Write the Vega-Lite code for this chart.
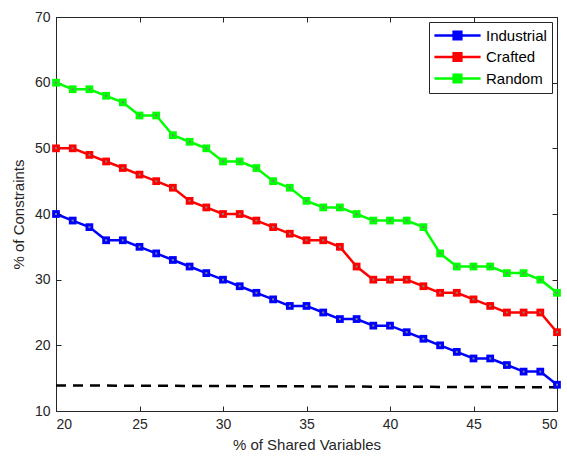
{
  "$schema": "https://vega.github.io/schema/vega-lite/v6.json",
  "autosize": {"type": "none"},
  "padding": {"left": 56, "top": 17, "right": 10, "bottom": 47},
  "width": 501,
  "height": 394,
  "background": "white",
  "config": {
    "font": "Liberation Sans",
    "view": {"stroke": "#262626", "strokeWidth": 1},
    "axis": {
      "grid": false,
      "domainColor": "#262626",
      "tickColor": "#262626",
      "labelColor": "#262626",
      "titleColor": "#262626",
      "labelFontSize": 14,
      "titleFontSize": 15,
      "titleFontWeight": "normal",
      "tickSize": -5,
      "labelPadding": 11
    },
    "legend": {
      "orient": "top-right",
      "offset": 5,
      "strokeColor": "#262626",
      "fillColor": "white",
      "padding": 5,
      "labelFontSize": 15,
      "labelColor": "black",
      "rowPadding": 2.5,
      "symbolSize": 196,
      "symbolOffset": 15,
      "labelOffset": 20,
      "symbolStrokeWidth": 2.5
    }
  },
  "datasets": {
    "main": [
      {"x": 20, "y": 40, "series": "Industrial"}, {"x": 21, "y": 39, "series": "Industrial"}, {"x": 22, "y": 38, "series": "Industrial"}, {"x": 23, "y": 36, "series": "Industrial"}, {"x": 24, "y": 36, "series": "Industrial"}, {"x": 25, "y": 35, "series": "Industrial"}, {"x": 26, "y": 34, "series": "Industrial"}, {"x": 27, "y": 33, "series": "Industrial"}, {"x": 28, "y": 32, "series": "Industrial"}, {"x": 29, "y": 31, "series": "Industrial"}, {"x": 30, "y": 30, "series": "Industrial"}, {"x": 31, "y": 29, "series": "Industrial"}, {"x": 32, "y": 28, "series": "Industrial"}, {"x": 33, "y": 27, "series": "Industrial"}, {"x": 34, "y": 26, "series": "Industrial"}, {"x": 35, "y": 26, "series": "Industrial"}, {"x": 36, "y": 25, "series": "Industrial"}, {"x": 37, "y": 24, "series": "Industrial"}, {"x": 38, "y": 24, "series": "Industrial"}, {"x": 39, "y": 23, "series": "Industrial"}, {"x": 40, "y": 23, "series": "Industrial"}, {"x": 41, "y": 22, "series": "Industrial"}, {"x": 42, "y": 21, "series": "Industrial"}, {"x": 43, "y": 20, "series": "Industrial"}, {"x": 44, "y": 19, "series": "Industrial"}, {"x": 45, "y": 18, "series": "Industrial"}, {"x": 46, "y": 18, "series": "Industrial"}, {"x": 47, "y": 17, "series": "Industrial"}, {"x": 48, "y": 16, "series": "Industrial"}, {"x": 49, "y": 16, "series": "Industrial"}, {"x": 50, "y": 14, "series": "Industrial"},
      {"x": 20, "y": 50, "series": "Crafted"}, {"x": 21, "y": 50, "series": "Crafted"}, {"x": 22, "y": 49, "series": "Crafted"}, {"x": 23, "y": 48, "series": "Crafted"}, {"x": 24, "y": 47, "series": "Crafted"}, {"x": 25, "y": 46, "series": "Crafted"}, {"x": 26, "y": 45, "series": "Crafted"}, {"x": 27, "y": 44, "series": "Crafted"}, {"x": 28, "y": 42, "series": "Crafted"}, {"x": 29, "y": 41, "series": "Crafted"}, {"x": 30, "y": 40, "series": "Crafted"}, {"x": 31, "y": 40, "series": "Crafted"}, {"x": 32, "y": 39, "series": "Crafted"}, {"x": 33, "y": 38, "series": "Crafted"}, {"x": 34, "y": 37, "series": "Crafted"}, {"x": 35, "y": 36, "series": "Crafted"}, {"x": 36, "y": 36, "series": "Crafted"}, {"x": 37, "y": 35, "series": "Crafted"}, {"x": 38, "y": 32, "series": "Crafted"}, {"x": 39, "y": 30, "series": "Crafted"}, {"x": 40, "y": 30, "series": "Crafted"}, {"x": 41, "y": 30, "series": "Crafted"}, {"x": 42, "y": 29, "series": "Crafted"}, {"x": 43, "y": 28, "series": "Crafted"}, {"x": 44, "y": 28, "series": "Crafted"}, {"x": 45, "y": 27, "series": "Crafted"}, {"x": 46, "y": 26, "series": "Crafted"}, {"x": 47, "y": 25, "series": "Crafted"}, {"x": 48, "y": 25, "series": "Crafted"}, {"x": 49, "y": 25, "series": "Crafted"}, {"x": 50, "y": 22, "series": "Crafted"},
      {"x": 20, "y": 60, "series": "Random"}, {"x": 21, "y": 59, "series": "Random"}, {"x": 22, "y": 59, "series": "Random"}, {"x": 23, "y": 58, "series": "Random"}, {"x": 24, "y": 57, "series": "Random"}, {"x": 25, "y": 55, "series": "Random"}, {"x": 26, "y": 55, "series": "Random"}, {"x": 27, "y": 52, "series": "Random"}, {"x": 28, "y": 51, "series": "Random"}, {"x": 29, "y": 50, "series": "Random"}, {"x": 30, "y": 48, "series": "Random"}, {"x": 31, "y": 48, "series": "Random"}, {"x": 32, "y": 47, "series": "Random"}, {"x": 33, "y": 45, "series": "Random"}, {"x": 34, "y": 44, "series": "Random"}, {"x": 35, "y": 42, "series": "Random"}, {"x": 36, "y": 41, "series": "Random"}, {"x": 37, "y": 41, "series": "Random"}, {"x": 38, "y": 40, "series": "Random"}, {"x": 39, "y": 39, "series": "Random"}, {"x": 40, "y": 39, "series": "Random"}, {"x": 41, "y": 39, "series": "Random"}, {"x": 42, "y": 38, "series": "Random"}, {"x": 43, "y": 34, "series": "Random"}, {"x": 44, "y": 32, "series": "Random"}, {"x": 45, "y": 32, "series": "Random"}, {"x": 46, "y": 32, "series": "Random"}, {"x": 47, "y": 31, "series": "Random"}, {"x": 48, "y": 31, "series": "Random"}, {"x": 49, "y": 30, "series": "Random"}, {"x": 50, "y": 28, "series": "Random"}
    ],
    "dash": [
      {"x": 20, "y": 13.9},
      {"x": 50, "y": 13.6}
    ]
  },
  "layer": [
    {
      "data": {"name": "dash"},
      "mark": {"type": "line", "color": "black", "strokeWidth": 2.5, "strokeDash": [10, 7]},
      "encoding": {
        "x": {"field": "x", "type": "quantitative", "scale": {"domain": [20, 50], "nice": false},
          "axis": {"orient": "top", "labels": false, "title": null, "values": [20, 25, 30, 35, 40, 45, 50]}},
        "y": {"field": "y", "type": "quantitative", "scale": {"domain": [10, 70], "nice": false},
          "axis": {"orient": "right", "labels": false, "title": null, "values": [10, 20, 30, 40, 50, 60, 70]}}
      }
    },
    {
      "data": {"name": "main"},
      "mark": {"type": "line", "strokeWidth": 2.5},
      "encoding": {
        "x": {"field": "x", "type": "quantitative", "scale": {"domain": [20, 50], "nice": false},
          "axis": {"orient": "bottom", "title": "% of Shared Variables", "values": [20, 25, 30, 35, 40, 45, 50], "titlePadding": 6}},
        "y": {"field": "y", "type": "quantitative", "scale": {"domain": [10, 70], "nice": false},
          "axis": {"orient": "left", "title": "% of Constraints", "values": [10, 20, 30, 40, 50, 60, 70], "titlePadding": 8}},
        "color": {
          "field": "series", "type": "nominal",
          "scale": {"domain": ["Industrial", "Crafted", "Random"], "range": ["#0000FF", "#FF0000", "#00FF00"]},
          "legend": {"title": null, "symbolType": "M-3.3,0H-0.55M0.55,0H3.3M-0.55,-0.55H0.55V0.55H-0.55Z"}
        }
      }
    },
    {
      "data": {"name": "main"},
      "mark": {"type": "point", "shape": "square", "filled": true, "opacity": 1, "size": 60},
      "encoding": {
        "x": {"field": "x", "type": "quantitative", "axis": null},
        "y": {"field": "y", "type": "quantitative", "axis": null},
        "color": {"field": "series", "type": "nominal", "legend": null}
      }
    },
    {
      "data": {"name": "main"},
      "mark": {"type": "point", "shape": "square", "filled": true, "opacity": 1, "size": 4, "color": "#808080"},
      "encoding": {
        "x": {"field": "x", "type": "quantitative", "axis": null},
        "y": {"field": "y", "type": "quantitative", "axis": null}
      }
    }
  ],
  "resolve": {"axis": {"x": "independent", "y": "independent"}}
}
